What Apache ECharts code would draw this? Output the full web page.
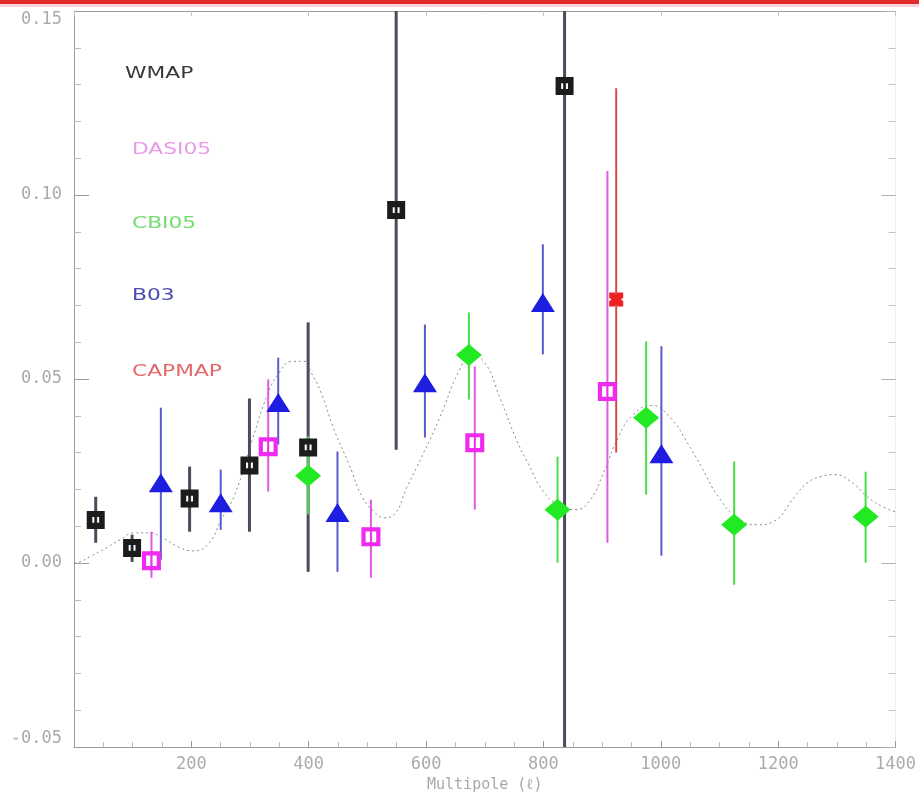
<!DOCTYPE html>
<html>
<head>
<meta charset="utf-8">
<script src="https://cdn.jsdelivr.net/npm/echarts@6/dist/echarts.min.js"></script>
<style>
  html, body { margin: 0; padding: 0; background: #ffffff; }
  #chart { width: 919px; height: 804px; }
</style>
</head>
<body>
<div id="chart"></div>
<script>
// EE polarization band powers by experiment: multipole, value, lower and upper error limits
const wmapEll = [37, 99, 197, 299, 399, 549, 836];
const wmapEE  = [0.0117, 0.0041, 0.0175, 0.0265, 0.0314, 0.0959, 0.1296];
const wmapLo  = [0.0055, 0.0003, 0.0085, 0.0085, -0.0024, 0.0308, -0.10];
const wmapHi  = [0.0180, 0.0077, 0.0262, 0.0447, 0.0654, 0.20, 0.25];

const dasiEll = [132, 331, 506, 683, 909];
const dasiEE  = [0.0006, 0.0316, 0.0071, 0.0327, 0.0466];
const dasiLo  = [-0.0040, 0.0194, -0.0040, 0.0145, 0.0055];
const dasiHi  = [0.0085, 0.0499, 0.0172, 0.0534, 0.1065];

const cbiEll = [399, 673, 824, 975, 1125, 1349];
const cbiEE  = [0.0237, 0.0565, 0.0145, 0.0395, 0.0104, 0.0126];
const cbiLo  = [0.0132, 0.0444, 0.0001, 0.0186, -0.0059, 0.0001];
const cbiHi  = [0.0344, 0.0681, 0.0289, 0.0602, 0.0276, 0.0248];

const b03Ell = [148, 250, 348, 449, 598, 799, 1001];
const b03EE  = [0.0218, 0.0164, 0.0436, 0.0137, 0.0490, 0.0708, 0.0297];
const b03Lo  = [0.0009, 0.0090, 0.0322, -0.0024, 0.0341, 0.0567, 0.0020];
const b03Hi  = [0.0422, 0.0254, 0.0558, 0.0303, 0.0648, 0.0866, 0.0589];

const capmapEll = [924];
const capmapEE  = [0.0716];
const capmapLo  = [0.0300];
const capmapHi  = [0.1290];

// Model EE spectrum
const theoryEll = [0, 10, 27, 56, 78, 104, 129, 150, 180, 202, 228, 251, 274, 304, 330, 350, 372, 392, 404, 421, 443, 469, 491, 511, 528, 545, 567, 584, 622, 656, 676, 698, 727, 754, 775, 800, 826, 855, 880, 903, 928, 953, 984, 1016, 1047, 1069, 1098, 1131, 1165, 1191, 1228, 1250, 1273, 1296, 1324, 1352, 1378, 1400];
const theoryEE  = [0.0000, 0.0003, 0.0017, 0.0042, 0.0063, 0.0082, 0.0082, 0.0069, 0.0042, 0.0033, 0.0050, 0.0118, 0.0186, 0.0336, 0.0458, 0.0518, 0.0548, 0.0548, 0.0518, 0.0463, 0.0363, 0.0267, 0.0180, 0.0140, 0.0123, 0.0131, 0.0205, 0.0260, 0.0390, 0.0521, 0.0561, 0.0548, 0.0444, 0.0335, 0.0267, 0.0194, 0.0158, 0.0145, 0.0172, 0.0248, 0.0343, 0.0403, 0.0428, 0.0395, 0.0322, 0.0262, 0.0180, 0.0123, 0.0104, 0.0112, 0.0180, 0.0218, 0.0235, 0.0240, 0.0221, 0.0180, 0.0153, 0.0139];

// Axis settings
const xTicks = { min: 0, max: 1400, interval: 200 };
const yTicks = { min: -0.05, max: 0.15, interval: 0.05 };

const legendItems = [
  { name: 'WMAP',   color: '#3a3a3a', y: 74 },
  { name: 'DASI05', color: '#e89ae8', y: 150 },
  { name: 'CBI05',  color: '#72dc72', y: 224 },
  { name: 'B03',    color: '#4a4ab0', y: 296 },
  { name: 'CAPMAP', color: '#e06a6a', y: 372 }
];

const SQUARE_DARK = 'path://M0,0H10V10H0Z M3.1,3.4V6.6H4.5V3.4Z M5.5,3.4V6.6H6.9V3.4Z';
const SQUARE_OPEN = 'path://M0,0H10V10H0Z M2.2,2.2V7.8H4.6V2.2Z M5.4,2.2V7.8H7.8V2.2Z';
const BOWTIE = 'path://M0,0H4L5,1.8L6,0H10V4L8.2,5L10,6V10H6L5,8.2L4,10H0V6L1.8,5L0,4Z';

function errorBars(name, ell, lo, hi, color, width) {
  return {
    name: name + ' errors',
    type: 'custom',
    clip: true,
    z: 2,
    silent: true,
    data: ell.map((e, i) => [e, lo[i], hi[i]]),
    encode: { x: 0, y: [1, 2] },
    renderItem: function (params, api) {
      const a = api.coord([api.value(0), api.value(1)]);
      const b = api.coord([api.value(0), api.value(2)]);
      return {
        type: 'line',
        shape: { x1: a[0], y1: a[1], x2: b[0], y2: b[1] },
        style: { stroke: color, lineWidth: width }
      };
    }
  };
}

function points(name, ell, vals, symbol, size, color) {
  return {
    name: name,
    type: 'scatter',
    z: 3,
    symbol: symbol,
    symbolSize: size,
    itemStyle: { color: color, opacity: 1 },
    data: ell.map((e, i) => [e, vals[i]])
  };
}

const axisText = { color: '#ababab', fontFamily: 'DejaVu Sans Mono', fontSize: 17 };
const axisLine = { show: true, onZero: false, lineStyle: { color: '#9c9c9c', width: 1 } };

const chart = echarts.init(document.getElementById('chart'), null, { renderer: 'canvas' });

chart.setOption({
  backgroundColor: '#ffffff',
  animation: false,
  grid: { left: 74, right: 21, top: 11, bottom: 57 },
  xAxis: [
    {
      type: 'value', position: 'bottom',
      min: xTicks.min, max: xTicks.max, interval: xTicks.interval,
      name: 'Multipole (ℓ)', nameLocation: 'middle', nameGap: 30,
      nameTextStyle: { color: '#a8a8a8', fontFamily: 'DejaVu Sans Mono', fontSize: 15 },
      axisLine: axisLine,
      axisTick: { show: true, inside: true, length: 6, lineStyle: { color: '#9c9c9c' } },
      minorTick: { show: true, splitNumber: 4, length: 5, lineStyle: { color: '#bdbdbd' } },
      axisLabel: Object.assign({ margin: 9, showMinLabel: false, formatter: v => String(v) }, axisText),
      splitLine: { show: false }
    },
    {
      type: 'value', position: 'top',
      min: xTicks.min, max: xTicks.max, interval: xTicks.interval,
      axisLine: axisLine,
      axisTick: { show: true, inside: true, length: 5, lineStyle: { color: '#c4c4c4' } },
      axisLabel: { show: false },
      splitLine: { show: false }
    }
  ],
  yAxis: [
    {
      type: 'value', position: 'left',
      min: yTicks.min, max: yTicks.max, interval: yTicks.interval,
      axisLine: axisLine,
      axisTick: { show: true, inside: true, length: 15, lineStyle: { color: '#9c9c9c' } },
      minorTick: { show: true, splitNumber: 5, length: 7, lineStyle: { color: '#b8b8b8' } },
      axisLabel: Object.assign({
        margin: 12,
        formatter: v => v.toFixed(2),
        verticalAlignMaxLabel: 'top',
        verticalAlignMinLabel: 'bottom'
      }, axisText),
      splitLine: { show: false }
    },
    {
      type: 'value', position: 'right',
      min: yTicks.min, max: yTicks.max, interval: yTicks.interval,
      axisLine: { show: true, onZero: false, lineStyle: { color: '#ececec', width: 1 } },
      axisTick: { show: true, inside: true, length: 14, lineStyle: { color: '#b0b0b0' } },
      minorTick: { show: true, splitNumber: 5, length: 7, lineStyle: { color: '#c4c4c4' } },
      axisLabel: { show: false },
      splitLine: { show: false }
    }
  ],
  graphic: [
    { type: 'rect', shape: { x: 0, y: 0, width: 919, height: 4 }, style: { fill: '#e22a2a' } },
    { type: 'rect', shape: { x: 0, y: 4, width: 919, height: 3 }, style: { fill: '#f7d2d6' } }
  ].concat(legendItems.map(it => ({
    type: 'text',
    x: it.name === 'WMAP' ? 125 : 132,
    y: it.y,
    scaleX: 1.45,
    style: {
      text: it.name, fill: it.color,
      font: '15px "DejaVu Sans"',
      textVerticalAlign: 'middle', verticalAlign: 'middle'
    }
  }))),
  series: [
    {
      name: 'Model', type: 'line', z: 1, smooth: true, showSymbol: false, silent: true,
      lineStyle: { color: '#8a8a8a', width: 1, type: [2, 3] },
      data: theoryEll.map((e, i) => [e, theoryEE[i]])
    },
    errorBars('WMAP', wmapEll, wmapLo, wmapHi, '#4b4b5c', 3),
    errorBars('DASI05', dasiEll, dasiLo, dasiHi, '#de5ade', 2),
    errorBars('CBI05', cbiEll, cbiLo, cbiHi, '#48dc48', 2),
    errorBars('B03', b03Ell, b03Lo, b03Hi, '#5a5ad0', 2),
    errorBars('CAPMAP', capmapEll, capmapLo, capmapHi, '#dc4646', 2),
    points('WMAP', wmapEll, wmapEE, SQUARE_DARK, [18, 18], '#1c1c1c'),
    points('DASI05', dasiEll, dasiEE, SQUARE_OPEN, [19, 19], '#f02af0'),
    points('CBI05', cbiEll, cbiEE, 'diamond', [26, 22], '#22ea22'),
    points('B03', b03Ell, b03EE, 'triangle', [24, 19], '#1e1ee0'),
    points('CAPMAP', capmapEll, capmapEE, BOWTIE, [14, 14], '#ee2020')
  ]
});
</script>
</body>
</html>
